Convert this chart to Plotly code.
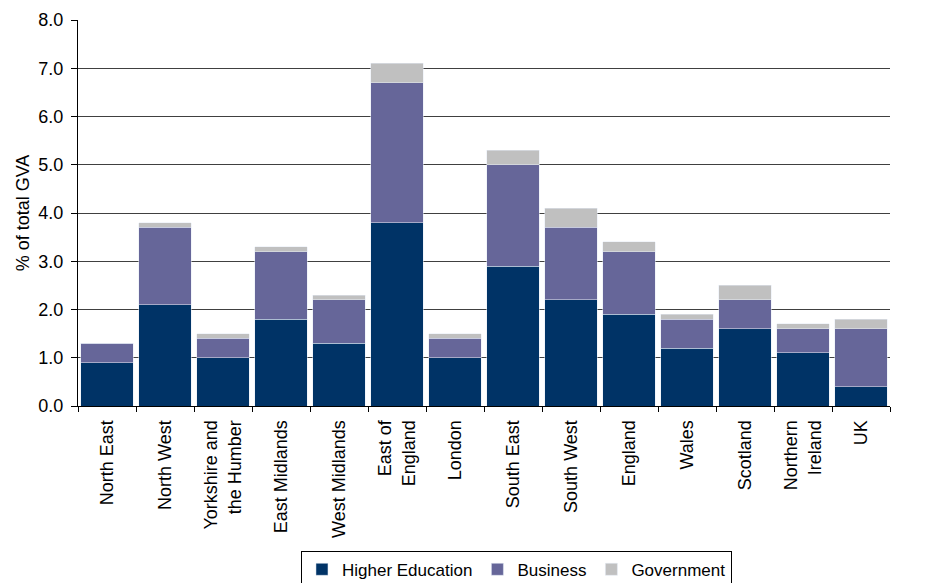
import plotly.graph_objects as go

categories = ["North East", "North West", "Yorkshire and<br>the Humber", "East Midlands",
              "West Midlands", "East of<br>England", "London", "South East", "South West",
              "England", "Wales", "Scotland", "Northern<br>Ireland", "UK"]
higher_education = [0.9, 2.1, 1.0, 1.8, 1.3, 3.8, 1.0, 2.9, 2.2, 1.9, 1.2, 1.6, 1.1, 0.4]
business = [0.4, 1.6, 0.4, 1.4, 0.9, 2.9, 0.4, 2.1, 1.5, 1.3, 0.6, 0.6, 0.5, 1.2]
government = [0.0, 0.1, 0.1, 0.1, 0.1, 0.4, 0.1, 0.3, 0.4, 0.2, 0.1, 0.3, 0.1, 0.2]
y_ticks = [0, 1, 2, 3, 4, 5, 6, 7, 8]

fig = go.Figure()
fig.add_trace(go.Bar(x=categories, y=higher_education, name="Higher Education", marker_color="#003366"))
fig.add_trace(go.Bar(x=categories, y=business, name="Business", marker_color="#666699"))
fig.add_trace(go.Bar(x=categories, y=government, name="Government", marker_color="#C0C0C0"))

fig.update_layout(
    barmode="stack",
    bargap=0.1,
    width=940, height=575,
    margin=dict(l=70, r=58, t=12, b=177, autoexpand=False),
    plot_bgcolor="white", paper_bgcolor="white",
    font=dict(family="Liberation Sans, Arial, sans-serif", size=18, color="black"),
    showlegend=True,
    legend=dict(orientation="h", traceorder="normal", xanchor="center", x=0.54,
                yanchor="top", y=-0.375,
                bordercolor="black", borderwidth=1, font=dict(size=17),
                itemwidth=30, tracegroupgap=0),
    yaxis=dict(range=[0, 8], tickvals=y_ticks, tickformat=".1f", showgrid=True,
               gridcolor="#404040", gridwidth=1, showline=True, linecolor="black",
               ticks="outside", ticklen=6, tickcolor="black", ticklabelstandoff=4,
               tickfont=dict(size=18), automargin=False,
               title=dict(text="% of total GVA", standoff=4, font=dict(size=18)), zeroline=False),
    xaxis=dict(tickangle=-90, showline=True, linecolor="black", ticks="outside",
               tickson="boundaries", ticklen=5, tickcolor="black", tickfont=dict(size=18),
               ticklabelstandoff=6, automargin=False),
)

fig.write_html("out.html")
